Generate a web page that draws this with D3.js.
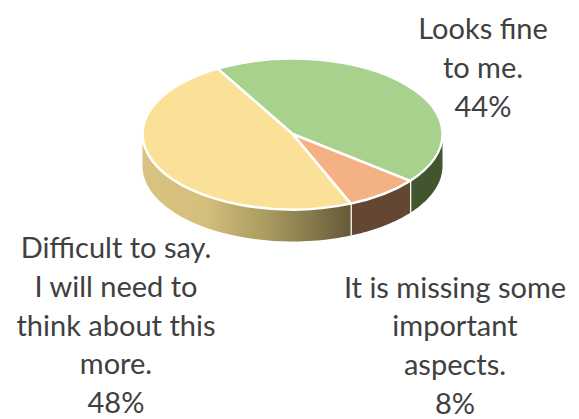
<!DOCTYPE html>
<html>
<head>
<meta charset="utf-8">
<script src="https://cdn.jsdelivr.net/npm/d3@7"></script>
<style>
html,body{margin:0;padding:0;background:#fff;}
svg{display:block;}
text{font-family:Lato,sans-serif;font-size:29px;fill:#404040;text-anchor:middle;}
</style>
</head>
<body>
<svg id="chart" width="579" height="419"></svg>
<script>
// Survey responses, in drawing order clockwise from the first slice edge
const categories = ["Looks fine to me.", "It is missing some important aspects.", "Difficult to say. I will need to think about this more."];
const shares = [44, 8, 48];
const topColors = ["#a9d18e", "#f4b183", "#fbe197"];
const wallColors = ["#43552f", "#634733", "url(#wallGradient)"];
const labelLines = [
  ["Looks fine", "to me.", "44%"],
  ["It is missing some", "important", "aspects.", "8%"],
  ["Difficult to say.", "I will need to", "think about this", "more.", "48%"]
];
const labelCentres = [[483, 39], [455, 297.5], [116, 258]];

const width = 579, height = 419;
const cx = 292.5, cy = 134, rx = 150, ry = 75.5, depth = 32;
const lineStep = 38.8;
const startAngle = -30 * Math.PI / 180;

const svg = d3.select("#chart");

const defs = svg.append("defs");
const grad = defs.append("linearGradient")
  .attr("id", "wallGradient")
  .attr("gradientUnits", "userSpaceOnUse")
  .attr("x1", cx - rx).attr("x2", cx + 58).attr("y1", 0).attr("y2", 0);
[[0, "#d8c480"], [0.3, "#d4bf7c"], [0.6, "#a99a60"], [1, "#655a39"]].forEach(([o, c]) =>
  grad.append("stop").attr("offset", o).attr("stop-color", c));

const arcs = d3.pie().sort(null).value(d => d)
  .startAngle(startAngle).endAngle(startAngle + 2 * Math.PI)(shares);

// Angle 0 points to the top of the ellipse, increasing clockwise
const xAt = d3.scaleLinear().domain([-1, 1]).range([cx - rx, cx + rx]);
const yAt = d3.scaleLinear().domain([-1, 1]).range([cy - ry, cy + ry]);

const wall = svg.append("g");
const lowerEdge = d3.line();

arcs.forEach((a, i) => {
  // Only the front half of the disc shows its side
  const from = Math.max(a.startAngle, Math.PI / 2);
  const to = Math.min(a.endAngle, 3 * Math.PI / 2);
  if (to <= from) return;
  const steps = d3.range(0, 61).map(k => from + (to - from) * k / 60);
  const top = steps.map(t => [xAt(Math.sin(t)), yAt(-Math.cos(t))]);
  const bottom = top.slice().reverse().map(([x, y]) => [x, y + depth]);
  wall.append("path")
    .attr("d", lowerEdge(top.concat(bottom)) + "Z")
    .attr("fill", wallColors[i])
    .attr("stroke", "none");
  // Seam between neighbouring walls
  if (a.endAngle < 3 * Math.PI / 2) {
    const last = top[top.length - 1];
    wall.append("line")
      .attr("x1", last[0]).attr("y1", last[1])
      .attr("x2", last[0]).attr("y2", last[1] + depth)
      .attr("stroke", "#fff").attr("stroke-width", 2.5);
  }
});

// Top face: a circular arc flattened into an ellipse
const arcGen = d3.arc().innerRadius(0).outerRadius(rx);
svg.append("g")
  .attr("transform", `translate(${cx},${cy}) scale(1,${ry / rx})`)
  .selectAll("path")
  .data(arcs)
  .join("path")
  .attr("d", arcGen)
  .attr("fill", (d, i) => topColors[i])
  .attr("stroke", "#fff")
  .attr("stroke-width", 2.5)
  .attr("stroke-linejoin", "round")
  .attr("vector-effect", "non-scaling-stroke");

// Category labels
svg.append("g").selectAll("text")
  .data(labelLines)
  .join("text")
  .attr("aria-label", (d, i) => categories[i])
  .each(function (lines, i) {
    d3.select(this).selectAll("tspan")
      .data(lines)
      .join("tspan")
      .attr("x", labelCentres[i][0])
      .attr("y", (l, k) => labelCentres[i][1] + k * lineStep)
      .text(l => l);
  });
</script>
</body>
</html>
